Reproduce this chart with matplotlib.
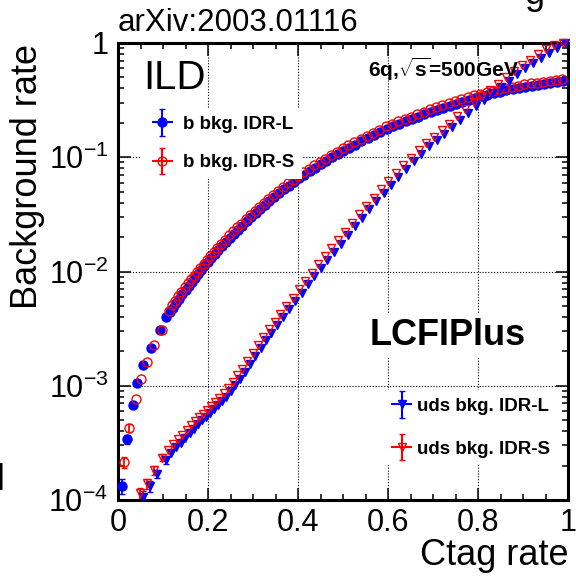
import numpy as np
import matplotlib
matplotlib.use('Agg')
import matplotlib.pyplot as plt
from matplotlib.ticker import MultipleLocator, LogLocator, FuncFormatter, NullFormatter
from matplotlib.container import ErrorbarContainer
from matplotlib.legend_handler import HandlerErrorbar, HandlerTuple

plt.rcParams['font.family'] = 'Liberation Sans'
plt.rcParams['mathtext.fontset'] = 'custom'
plt.rcParams['mathtext.rm'] = 'Liberation Sans'
plt.rcParams['mathtext.bf'] = 'Liberation Sans:bold'
plt.rcParams['mathtext.it'] = 'Liberation Sans:italic'

#b background, IDR-L (ctag rate, log10 of background rate)
b_L_x = [0.008, 0.021, 0.033, 0.043, 0.056, 0.073, 0.093, 0.107,
         0.115, 0.122, 0.129, 0.136, 0.143, 0.150, 0.157, 0.164, 0.171, 0.178, 0.185, 0.192, 0.199,
         0.207, 0.215, 0.223, 0.231, 0.240, 0.249, 0.258, 0.267, 0.276, 0.286, 0.296,
         0.306, 0.316, 0.326, 0.336, 0.347, 0.358, 0.369, 0.380, 0.391,
         0.402, 0.414, 0.426, 0.438, 0.450, 0.462, 0.475, 0.488, 0.501,
         0.514, 0.527, 0.541, 0.555, 0.569, 0.583, 0.597,
         0.611, 0.625, 0.639, 0.653, 0.667, 0.681, 0.695,
         0.709, 0.723, 0.737, 0.751, 0.765, 0.779, 0.793,
         0.807, 0.821, 0.835, 0.849, 0.863, 0.877, 0.891,
         0.905, 0.919, 0.933, 0.947, 0.961, 0.975, 0.988]
b_L_logy = [-3.88, -3.47, -3.17, -2.98, -2.82, -2.67, -2.51, -2.40,
            -2.355, -2.316, -2.277, -2.238, -2.198, -2.159, -2.125, -2.090, -2.056, -2.022, -1.987, -1.953, -1.919,
            -1.884, -1.849, -1.815, -1.781, -1.742, -1.703, -1.669, -1.634, -1.600, -1.562, -1.524,
            -1.489, -1.455, -1.421, -1.387, -1.349, -1.315, -1.282, -1.249, -1.216,
            -1.184, -1.153, -1.121, -1.090, -1.059, -1.031, -1.001, -0.971, -0.942,
            -0.916, -0.890, -0.862, -0.834, -0.806, -0.778, -0.750,
            -0.728, -0.707, -0.686, -0.665, -0.644, -0.623, -0.602,
            -0.583, -0.565, -0.548, -0.530, -0.513, -0.495, -0.478,
            -0.463, -0.451, -0.439, -0.427, -0.415, -0.404, -0.392,
            -0.381, -0.374, -0.366, -0.358, -0.351, -0.343, -0.336]

#b background, IDR-S
b_S_x = [0.014, 0.025, 0.040, 0.050, 0.065, 0.080, 0.098, 0.114,
         0.120, 0.127, 0.134, 0.141, 0.148, 0.155, 0.162, 0.169, 0.176, 0.183, 0.190, 0.197,
         0.205, 0.213, 0.221, 0.229, 0.238, 0.247, 0.256, 0.265, 0.274, 0.284, 0.294,
         0.304, 0.314, 0.324, 0.334, 0.345, 0.356, 0.367, 0.378, 0.389,
         0.400, 0.412, 0.424, 0.436, 0.448, 0.460, 0.473, 0.486, 0.499,
         0.512, 0.525, 0.539, 0.553, 0.567, 0.581, 0.595,
         0.609, 0.623, 0.637, 0.651, 0.665, 0.679, 0.693,
         0.707, 0.721, 0.735, 0.749, 0.763, 0.777, 0.791,
         0.805, 0.819, 0.833, 0.847, 0.861, 0.875, 0.889,
         0.903, 0.917, 0.931, 0.945, 0.959, 0.973, 0.986]
b_S_logy = [-3.67, -3.37, -3.12, -2.94, -2.79, -2.64, -2.515, -2.35,
            -2.296, -2.257, -2.218, -2.178, -2.139, -2.105, -2.070, -2.036, -2.002, -1.967, -1.933, -1.899,
            -1.864, -1.829, -1.795, -1.761, -1.722, -1.683, -1.649, -1.614, -1.580, -1.542, -1.504,
            -1.469, -1.435, -1.401, -1.367, -1.329, -1.295, -1.262, -1.229, -1.196,
            -1.164, -1.133, -1.101, -1.070, -1.039, -1.011, -0.981, -0.951, -0.922,
            -0.896, -0.870, -0.842, -0.814, -0.786, -0.758, -0.730,
            -0.708, -0.687, -0.666, -0.645, -0.624, -0.603, -0.582,
            -0.563, -0.545, -0.528, -0.510, -0.493, -0.475, -0.458,
            -0.443, -0.431, -0.419, -0.407, -0.395, -0.384, -0.372,
            -0.361, -0.354, -0.346, -0.338, -0.331, -0.323, -0.316]

#uds background, IDR-L
uds_L_x = [0.056, 0.071, 0.086, 0.106, 0.118, 0.129, 0.139, 0.149, 0.159, 0.168,
           0.177, 0.186, 0.195, 0.204, 0.213, 0.222, 0.231, 0.241, 0.251, 0.261,
           0.271, 0.282, 0.293, 0.305, 0.317, 0.329, 0.341, 0.354, 0.367, 0.380,
           0.394, 0.408, 0.422, 0.436, 0.450, 0.465, 0.480, 0.495, 0.510, 0.526,
           0.542, 0.558, 0.574, 0.590, 0.606, 0.623, 0.640, 0.657, 0.674, 0.691,
           0.708, 0.725, 0.742, 0.760, 0.778, 0.796, 0.814, 0.832, 0.850, 0.868,
           0.886, 0.904, 0.922, 0.940, 0.958, 0.975, 0.993]
uds_L_logy = [-3.97, -3.88, -3.77, -3.65, -3.59, -3.54, -3.50, -3.46, -3.415, -3.375,
              -3.335, -3.30, -3.275, -3.24, -3.205, -3.17, -3.135, -3.095, -3.05, -2.995,
              -2.94, -2.88, -2.81, -2.74, -2.67, -2.60, -2.535, -2.47, -2.40, -2.33,
              -2.26, -2.185, -2.11, -2.04, -1.965, -1.895, -1.825, -1.755, -1.68, -1.605,
              -1.53, -1.455, -1.385, -1.31, -1.24, -1.17, -1.10, -1.035, -0.97, -0.905,
              -0.85, -0.795, -0.735, -0.67, -0.61, -0.55, -0.495, -0.44, -0.385, -0.33,
              -0.275, -0.22, -0.175, -0.13, -0.085, -0.04, 0.0]

#uds background, IDR-S
uds_S_x = [0.049, 0.064, 0.081, 0.098, 0.112, 0.123, 0.133, 0.143, 0.153, 0.162,
           0.171, 0.180, 0.189, 0.198, 0.207, 0.216, 0.225, 0.235, 0.245, 0.255,
           0.265, 0.276, 0.287, 0.299, 0.311, 0.323, 0.335, 0.348, 0.361, 0.374,
           0.388, 0.402, 0.416, 0.430, 0.444, 0.459, 0.474, 0.489, 0.504, 0.520,
           0.536, 0.552, 0.568, 0.584, 0.600, 0.617, 0.634, 0.651, 0.668, 0.685,
           0.702, 0.719, 0.736, 0.754, 0.772, 0.790, 0.808, 0.826, 0.844, 0.862,
           0.880, 0.898, 0.916, 0.934, 0.952, 0.969, 0.988]
uds_S_logy = [-3.94, -3.855, -3.74, -3.63, -3.56, -3.51, -3.47, -3.43, -3.385, -3.345,
              -3.305, -3.27, -3.245, -3.21, -3.175, -3.14, -3.105, -3.065, -3.02, -2.965,
              -2.91, -2.85, -2.78, -2.71, -2.64, -2.57, -2.505, -2.44, -2.37, -2.30,
              -2.23, -2.155, -2.08, -2.01, -1.935, -1.865, -1.795, -1.725, -1.65, -1.575,
              -1.50, -1.425, -1.355, -1.28, -1.21, -1.14, -1.07, -1.005, -0.94, -0.875,
              -0.82, -0.765, -0.705, -0.64, -0.58, -0.52, -0.465, -0.41, -0.355, -0.30,
              -0.245, -0.19, -0.145, -0.10, -0.055, -0.015, 0.0]

#errors visible only on the lowest points
b_L_err = [2.0e-5, 3.0e-5]
b_S_err = [2.4e-5, 3.5e-5]
uds_L_err = [1.3e-5, 1.4e-5, 1.5e-5, 1.6e-5]
uds_S_err = [1.3e-5, 1.4e-5, 1.5e-5, 1.6e-5]

blue = '#0000ff'
red = '#ff0000'

fig = plt.figure(figsize=(5.76, 5.79), dpi=100)
fig.patch.set_facecolor('white')
ax = fig.add_axes([118/576, 1 - 500/579, 450/576, 457/579])
ax.set_xlim(0, 1)
ax.set_yscale('log')
ax.set_ylim(1e-4, 1)
ax.set_axisbelow(True)
ax.grid(True, which='major', color='black', linestyle=(0, (1, 1.6)), linewidth=0.8)

b_L_y = 10 ** np.array(b_L_logy)
b_S_y = 10 ** np.array(b_S_logy)
uds_L_y = 10 ** np.array(uds_L_logy)
uds_S_y = 10 ** np.array(uds_S_logy)

ax.plot(b_L_x, b_L_y, 'o', color=blue, ms=6.5, mec=blue, clip_on=False, zorder=3)
ax.plot(b_S_x, b_S_y, 'o', mfc='none', mec=red, ms=6.5, mew=1.0, clip_on=False, zorder=3)
ax.plot(uds_L_x, uds_L_y, 'v', color=blue, ms=5.5, mec=blue, clip_on=False, zorder=3)
ax.plot(uds_S_x, uds_S_y, 'v', mfc='none', mec=red, ms=6, mew=1.0, clip_on=False, zorder=3)

ax.errorbar(b_L_x[:2], b_L_y[:2], yerr=b_L_err, fmt='none', ecolor=blue, elinewidth=1.3, capsize=2)
ax.errorbar(b_S_x[:2], b_S_y[:2], yerr=b_S_err, fmt='none', ecolor=red, elinewidth=1.3, capsize=2)
ax.errorbar(uds_L_x[:4], uds_L_y[:4], yerr=uds_L_err, fmt='none', ecolor=blue, elinewidth=1.3, capsize=2)
ax.errorbar(uds_S_x[:4], uds_S_y[:4], yerr=uds_S_err, fmt='none', ecolor=red, elinewidth=1.3, capsize=2)

#ticks
ax.xaxis.set_major_locator(MultipleLocator(0.2))
ax.xaxis.set_minor_locator(MultipleLocator(0.05))
ax.xaxis.set_major_formatter(FuncFormatter(lambda v, p: '%g' % v))
ax.yaxis.set_major_locator(LogLocator(base=10, numticks=10))
ax.yaxis.set_minor_locator(LogLocator(base=10, subs=np.arange(2, 10), numticks=20))
ax.yaxis.set_minor_formatter(NullFormatter())

def ylab(v, p):
    e = int(round(np.log10(v)))
    if e == 0:
        return '1'
    return r'$10^{%d}$' % e

ax.yaxis.set_major_formatter(FuncFormatter(ylab))
ax.tick_params(which='both', direction='in', top=True, right=True, labelsize=22, width=1.1)
ax.tick_params(which='major', length=9)
ax.tick_params(which='minor', length=4.5)
ax.tick_params(axis='x', pad=6)
ax.tick_params(axis='y', pad=7)
for s in ax.spines.values():
    s.set_linewidth(2.2)

#legends with error bar style handles
def handle(col, marker, filled, ms):
    hx = ax.errorbar([np.nan], [np.nan], xerr=[1], fmt='none', ecolor=col, elinewidth=1.5, capsize=0)
    hy = ax.errorbar([np.nan], [np.nan], yerr=[1], fmt=marker, color=col, ms=ms,
                     mfc=col if filled else 'none', mec=col, mew=1.0, elinewidth=1.5, capsize=2.2)
    return (hx, hy)

hmap = {ErrorbarContainer: HandlerErrorbar(xerr_size=0.56, yerr_size=0.7), tuple: HandlerTuple(ndivide=1)}
prop = {'weight': 'bold', 'size': 13.5}

leg1 = ax.legend([handle(blue, 'o', True, 6.5), handle(red, 'o', False, 6.5)],
                 ['b bkg. IDR-L', 'b bkg. IDR-S'],
                 loc='upper left', bbox_to_anchor=(0.052, 0.857), borderaxespad=0,
                 handler_map=hmap, prop=prop, frameon=True, facecolor='white', edgecolor='none',
                 framealpha=1, fancybox=False, handlelength=1.44, handletextpad=0.4,
                 labelspacing=1.14, borderpad=0.4, numpoints=1)
ax.add_artist(leg1)
leg2 = ax.legend([handle(blue, 'v', True, 5.5), handle(red, 'v', False, 6)],
                 ['uds bkg. IDR-L', 'uds bkg. IDR-S'],
                 loc='upper left', bbox_to_anchor=(0.589, 0.240), borderaxespad=0,
                 handler_map=hmap, prop=prop, frameon=True, facecolor='white', edgecolor='none',
                 framealpha=1, fancybox=False, handlelength=1.2, handletextpad=0.2,
                 labelspacing=1.36, borderpad=0.4, numpoints=1)

#texts
fig.text(118/576, 1 - 31/579, 'arXiv:2003.01116', fontsize=22.5, va='baseline', ha='left')
fig.text(143/576, 1 - 89/579, 'ILD', fontsize=29, va='baseline', ha='left')
fig.text(368/576, 1 - 77/579, r'6q,$\sqrt{\mathbf{s}}$=500GeV', fontsize=15, fontweight='bold',
         va='baseline', ha='left')
fig.text(370/576, 1 - 345/579, 'LCFIPlus', fontsize=26, fontweight='bold', va='baseline', ha='left',
         bbox=dict(facecolor='white', edgecolor='none', pad=4))
fig.text(28/576, 1 - 44/579, 'Background rate', fontsize=26, rotation=90, ha='center', va='top')
fig.text(568/576, 1 - 538/579, 'Ctag rate', fontsize=26, ha='right', va='top')
#cut-off letters from neighbouring panels
fig.text(525/576, 1 - 4/579, 'g', fontsize=26, va='baseline', ha='left')
fig.text(-3/576, 1 - 490/579, 'l', fontsize=26, va='baseline', ha='left')

fig.savefig('out.png', dpi=100)
